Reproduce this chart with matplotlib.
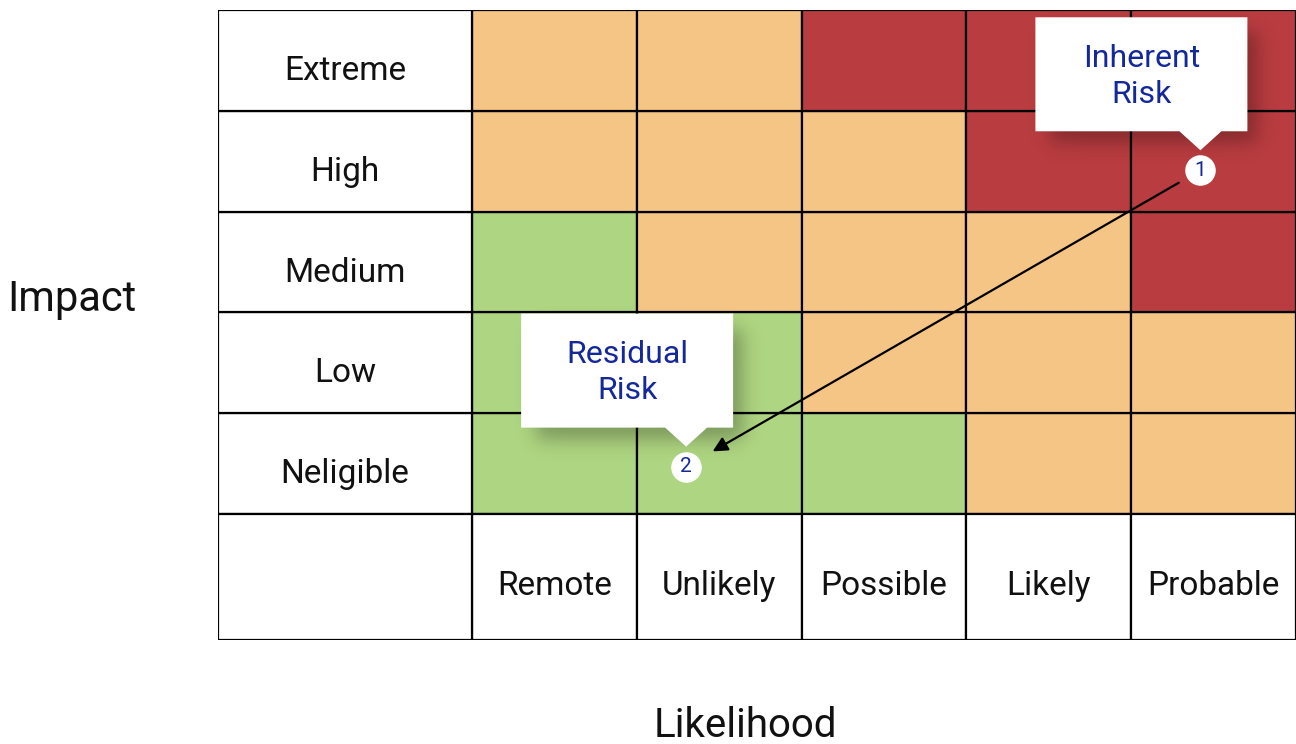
import matplotlib
matplotlib.use("Agg")
import numpy as np
import matplotlib.pyplot as plt
import matplotlib.transforms as mtransforms
from matplotlib.patches import Rectangle, Polygon

plt.rcParams['font.family'] = ['Roboto', 'DejaVu Sans']

# data
impact = ["Neligible", "Low", "Medium", "High", "Extreme"]          # bottom -> top
likelihood = ["Remote", "Unlikely", "Possible", "Likely", "Probable"]
# 0 = low (green), 1 = medium (orange), 2 = high (red); rows bottom -> top
levels = [
    [0, 0, 0, 1, 1],
    [0, 0, 1, 1, 1],
    [0, 1, 1, 1, 2],
    [1, 1, 1, 2, 2],
    [1, 1, 2, 2, 2],
]
level_colors = ["#aed581", "#f5c586", "#b93c40"]

risk_names = ["Inherent\nRisk", "Residual\nRisk"]
risk_ids = ["1", "2"]
risk_x = [4.42, 1.30]   # likelihood position
risk_y = [3.41, 0.47]   # impact position

text_blue = "#14289a"
label_w = 1.54
bottom_h = 1.25

fig = plt.figure(figsize=(12.96, 7.44), dpi=100)
ax = fig.add_axes([218 / 1296, 1 - 640 / 744, 1 - 218 / 1296, 630 / 744])
ax.set_xlim(-label_w, 5)
ax.set_ylim(-bottom_h, 5)
ax.axis("off")

lw = 1.6
# risk cells
for r, row in enumerate(levels):
    for c, lv in enumerate(row):
        ax.add_patch(Rectangle((c, r), 1, 1, facecolor=level_colors[lv],
                               edgecolor="black", lw=lw, zorder=1))
# row labels
for r, name in enumerate(impact):
    ax.add_patch(Rectangle((-label_w, r), label_w, 1, facecolor="white",
                           edgecolor="black", lw=lw, zorder=1))
    ax.text(-label_w / 2, r + 0.43, name, ha="center", va="center_baseline",
            fontsize=24, color="#111111")
# column labels
for c, name in enumerate(likelihood):
    ax.add_patch(Rectangle((c, -bottom_h), 1, bottom_h, facecolor="white",
                           edgecolor="black", lw=lw, zorder=1))
    ax.text(c + 0.5, -0.68, name, ha="center", va="center_baseline",
            fontsize=24, color="#111111")
ax.add_patch(Rectangle((-label_w, -bottom_h), label_w, bottom_h,
                       facecolor="white", edgecolor="black", lw=lw, zorder=1))

# arrow from inherent to residual
ax.annotate("", xy=(risk_x[1], risk_y[1]), xytext=(risk_x[0], risk_y[0]),
            arrowprops=dict(arrowstyle="-|>", color="black", lw=1.6,
                            mutation_scale=22, shrinkA=18, shrinkB=22),
            zorder=3)

# callouts (shape in inches relative to marker)
box = [(-1.65, 0.39), (-0.21, 0.39), (0.0, 0.20), (0.21, 0.39),
       (0.47, 0.39), (0.47, 1.53), (-1.65, 1.53)]
x0, x1, y0, y1 = -1.65, 0.47, 0.39, 1.53

# blurred shadow image (inch units around the marker)
gx = np.linspace(x0 - 0.6, x1 + 0.6, 300)
gy = np.linspace(y0 - 0.6, y1 + 0.3, 200)
GX, GY = np.meshgrid(gx, gy)
sig = 0.11
s = lambda t: 0.5 * (1 + np.tanh(t / sig))
shadow_a = 0.28 * s(GX - (x0 + 0.15)) * s((x1 + 0.1) - GX) \
    * s(GY - (y0 - 0.12)) * s((y1 - 0.15) - GY)
shadow = np.zeros(GX.shape + (4,))
shadow[..., 3] = shadow_a

for name, rid, x, y in zip(risk_names, risk_ids, risk_x, risk_y):
    base = fig.dpi_scale_trans + mtransforms.ScaledTranslation(x, y, ax.transData)
    im = ax.imshow(shadow, origin="lower", interpolation="bilinear",
                   extent=(gx[0], gx[-1], gy[0], gy[-1]), zorder=4)
    im.set_transform(base)
    ax.add_patch(Polygon(box, closed=True, facecolor="white", edgecolor="none",
                         transform=base, zorder=5))
    ax.text(-0.59, 0.94, name, ha="center", va="center", fontsize=23,
            color=text_blue, linespacing=1.32, transform=base, zorder=6)
    ax.plot(x, y, "o", ms=22, mfc="white", mec="none", zorder=6)
    ax.text(x, y, rid, ha="center", va="center", fontsize=15,
            color=text_blue, zorder=7)

ax.set_xlim(-label_w, 5)
ax.set_ylim(-bottom_h, 5)
ax.set_aspect("auto")

fig.text(72 / 1296, 1 - 299 / 744, "Impact", ha="center", va="center",
         fontsize=30, color="#111111")
fig.text(745 / 1296, 1 - 737 / 744, "Likelihood", ha="center", va="baseline",
         fontsize=29, color="#111111")

fig.savefig("out.png", dpi=100)
